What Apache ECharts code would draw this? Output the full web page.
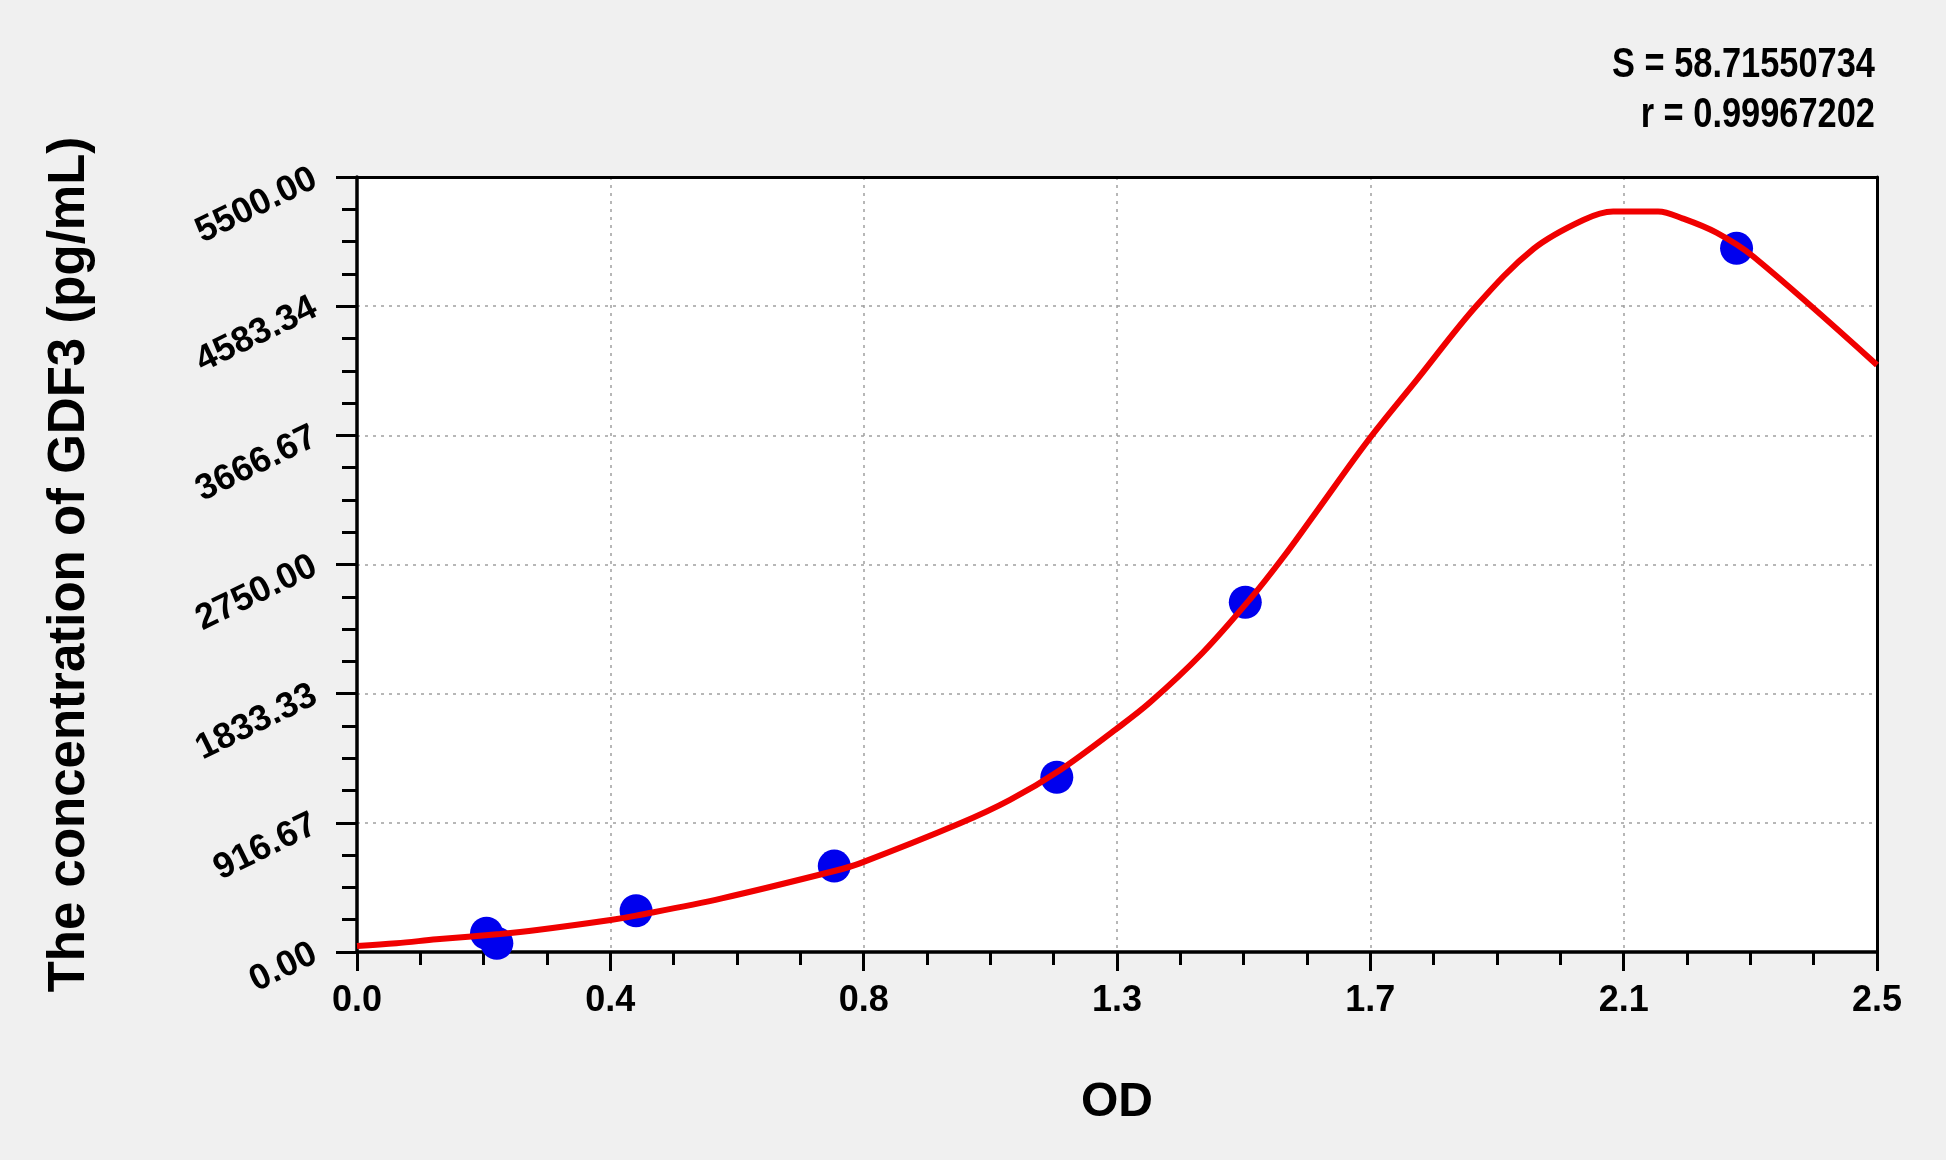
<!DOCTYPE html>
<html><head><meta charset="utf-8">
<script src="https://cdn.jsdelivr.net/npm/echarts@6/dist/echarts.min.js"></script>
<style>html,body{margin:0;padding:0;background:#f0f0f0;} #c{width:1946px;height:1160px;}</style>
</head><body><div id="c"></div>
<script>
const xTickLabels = ['0.0', '0.4', '0.8', '1.3', '1.7', '2.1', '2.5'];
const yTickLabels = ['0.00', '916.67', '1833.33', '2750.00', '3666.67', '4583.34', '5500.00'];
const stdOD = [0.213, 0.230, 0.459, 0.785, 1.151, 1.461, 2.269];
const stdConc = [133, 62, 293, 610, 1240, 2482, 4994];
const curveOD = [0.000, 0.065, 0.131, 0.235, 0.296, 0.417, 0.459, 0.600, 0.785, 0.827, 0.992, 1.074, 1.156, 1.248, 1.304, 1.390, 1.469, 1.524, 1.578, 1.662, 1.743, 1.842, 1.935, 2.017, 2.066, 2.140, 2.181, 2.236, 2.297, 2.500];
const curveConc = [43, 62, 90, 128, 156, 227, 258, 381, 575, 629, 913, 1079, 1290, 1580, 1770, 2120, 2505, 2805, 3125, 3625, 4060, 4590, 4990, 5195, 5255, 5255, 5205, 5105, 4934, 4166];
const statLines = ['S = 58.71550734', 'r = 0.99967202'];
const xAxisName = 'OD';
const yAxisName = 'The concentration of GDF3 (pg/mL)';
const xMax = 2.5, yMax = 5500, nDiv = 6;

const FONT = "'Liberation Sans', Arial, sans-serif";
const gridLine = { show: true, lineStyle: { color: '#a0a0a0', width: 1.5, type: [3, 5] } };
const frameAxis = (pos, max) => ({
  type: 'value', position: pos, min: 0, max: max,
  axisLine: { show: true, onZero: false, lineStyle: { color: '#000', width: 3 } },
  axisTick: { show: false }, axisLabel: { show: false }, splitLine: { show: false }
});

const chart = echarts.init(document.getElementById('c'));
chart.setOption({
  backgroundColor: '#f0f0f0',
  animation: false,
  grid: { show: true, backgroundColor: '#ffffff', borderWidth: 0, left: 357, right: 69, top: 177, bottom: 208 },
  xAxis: [{
    type: 'value', position: 'bottom', min: 0, max: xMax, interval: xMax / nDiv,
    name: xAxisName, nameLocation: 'middle', nameGap: 127,
    nameTextStyle: { fontFamily: FONT, fontWeight: 'bold', fontSize: 48, color: '#000' },
    axisLine: { show: true, onZero: false, lineStyle: { color: '#000', width: 3.5 } },
    axisTick: { show: true, length: 19, lineStyle: { color: '#000', width: 3 } },
    minorTick: { show: true, splitNumber: 4, length: 13, lineStyle: { color: '#000', width: 3 } },
    axisLabel: { margin: 31, fontFamily: FONT, fontWeight: 'bold', fontSize: 36, color: '#000',
      formatter: v => xTickLabels[Math.round(v / (xMax / nDiv))] },
    splitLine: gridLine
  }, frameAxis('top', xMax)],
  yAxis: [{
    type: 'value', position: 'left', min: 0, max: yMax, interval: yMax / nDiv,
    name: yAxisName, nameLocation: 'middle', nameGap: 262,
    nameTextStyle: { fontFamily: FONT, fontWeight: 'bold', fontSize: 51, color: '#000' },
    axisLine: { show: true, onZero: false, lineStyle: { color: '#000', width: 3.5 } },
    axisTick: { show: true, length: 21, lineStyle: { color: '#000', width: 3 } },
    minorTick: { show: true, splitNumber: 4, length: 15, lineStyle: { color: '#000', width: 3 } },
    axisLabel: { margin: 42, rotate: 26, fontFamily: FONT, fontWeight: 'bold', fontSize: 36, color: '#000',
      formatter: v => yTickLabels[Math.round(v / (yMax / nDiv))] },
    splitLine: gridLine
  }, frameAxis('right', yMax)],
  graphic: statLines.map((t, i) => ({
    type: 'text', right: 71, top: 44 + i * 50, scaleX: 0.8,
    style: { text: t, fontFamily: FONT, fontWeight: 'bold', fontSize: 43, fill: '#000' }
  })),
  series: [
    { type: 'scatter', z: 2, symbolSize: 33, itemStyle: { color: '#0000ee', opacity: 1 },
      data: stdOD.map((x, i) => [x, stdConc[i]]) },
    { type: 'line', z: 3, smooth: 0.35, showSymbol: false, symbol: 'none',
      lineStyle: { color: '#f00000', width: 6 },
      data: curveOD.map((x, i) => [x, curveConc[i]]) }
  ]
});
</script></body></html>
